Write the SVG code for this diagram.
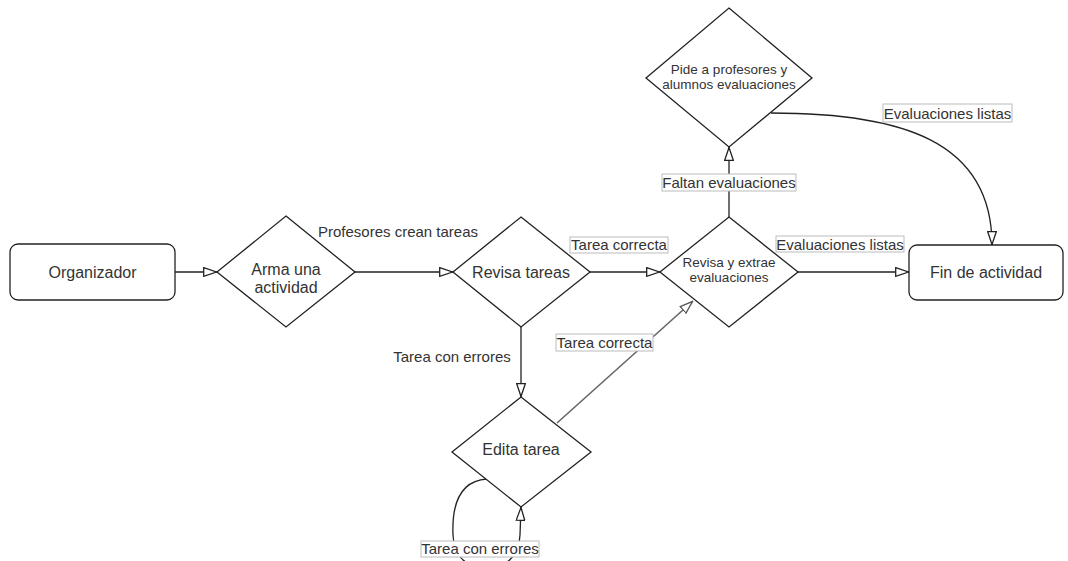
<svg xmlns="http://www.w3.org/2000/svg" width="1068" height="561" viewBox="0 0 1068 561">
<defs>
<marker id="arr" viewBox="0 0 14 10" refX="14" refY="5" markerWidth="14" markerHeight="10" markerUnits="userSpaceOnUse" orient="auto">
<path d="M0.7,0.7 L13.5,5 L0.7,9.3 Z" fill="#fff" stroke="#222" stroke-width="1.3"/>
</marker>
<marker id="arrg" viewBox="0 0 14 10" refX="14" refY="5" markerWidth="14" markerHeight="10" markerUnits="userSpaceOnUse" orient="auto">
<path d="M0.7,0.7 L13.5,5 L0.7,9.3 Z" fill="#fff" stroke="#555" stroke-width="1.3"/>
</marker>
</defs>
<style>
.shape{fill:#fff;stroke:#222;stroke-width:1.3}
.edge{fill:none;stroke:#222;stroke-width:1.3}
.t{font-family:"Liberation Sans",Arial,sans-serif;fill:#333;text-anchor:middle}
.n{font-size:16px}
.s{font-size:13.5px}
.l{font-size:15px}
.lb{fill:#fff;stroke:#bbb;stroke-width:1}
</style>
<rect width="1068" height="561" fill="#fff"/>
<g id="connectors">
<path class="edge" d="M175 272 L217 272" marker-end="url(#arr)"/>
<path class="edge" d="M355 272 L453 272" marker-end="url(#arr)"/>
<text class="t l" x="398" y="237">Profesores crean tareas</text>
<path class="edge" d="M590 272 L660 272" marker-end="url(#arr)"/>
<rect class="lb" x="570" y="237" width="98" height="16"/>
<text class="t l" x="619" y="250">Tarea correcta</text>
<path class="edge" d="M798 272 L909 272" marker-end="url(#arr)"/>
<rect class="lb" x="776" y="236" width="128" height="16"/>
<text class="t l" x="840" y="249.5">Evaluaciones listas</text>
<path class="edge" d="M729 217 L729 147" marker-end="url(#arr)"/>
<rect class="lb" x="662" y="174" width="134" height="17"/>
<text class="t l" x="729" y="188">Faltan evaluaciones</text>
<path class="edge" d="M771 113 C 900 113, 992 140, 992 245" marker-end="url(#arr)"/>
<rect class="lb" x="883" y="104" width="129" height="18"/>
<text class="t l" x="947.5" y="118.5">Evaluaciones listas</text>
<path class="edge" d="M521 327 L521 397" marker-end="url(#arr)"/>
<text class="t l" x="452" y="362">Tarea con errores</text>
<path d="M557 423 L693 301" fill="none" stroke="#666" stroke-width="1.6" marker-end="url(#arrg)"/>
<rect class="lb" x="556" y="334" width="97" height="17"/>
<text class="t l" x="604.5" y="347.5">Tarea correcta</text>
<path class="edge" d="M487 479 C 457 481, 452 510, 453 535 C 454 558, 466 567, 486 567 C 506 567, 519 558, 520 535 L 521 507" marker-end="url(#arr)"/>
<rect class="lb" x="421" y="541" width="118" height="16"/>
<text class="t l" x="480" y="554">Tarea con errores</text>
</g>
<g id="organizador">
<rect class="shape" x="10" y="244" width="165" height="56" rx="8" ry="8"/>
<text class="t n" x="92.5" y="278">Organizador</text>
</g>
<g id="arma">
<path class="shape" d="M286 216 L355 272 L286 327 L217 272 Z"/>
<text class="t n" x="286" y="275">Arma una</text>
<text class="t n" x="286" y="293">actividad</text>
</g>
<g id="revisa-tareas">
<path class="shape" d="M521 217 L590 272 L521 327 L453 272 Z"/>
<text class="t n" x="521" y="278">Revisa tareas</text>
</g>
<g id="revisa-extrae">
<path class="shape" d="M729 217 L798 272 L729 327 L660 272 Z"/>
<text class="t s" x="729" y="267">Revisa y extrae</text>
<text class="t s" x="729" y="282">evaluaciones</text>
</g>
<g id="pide">
<path class="shape" d="M729 8 L812 78 L729 147 L646 78 Z"/>
<text class="t s" x="729" y="74">Pide a profesores y</text>
<text class="t s" x="729" y="89">alumnos evaluaciones</text>
</g>
<g id="fin">
<rect class="shape" x="909" y="245" width="154" height="55" rx="8" ry="8"/>
<text class="t n" x="986" y="278">Fin de actividad</text>
</g>
<g id="edita">
<path class="shape" d="M521 397 L591 452 L521 507 L452 452 Z"/>
<text class="t n" x="521" y="455">Edita tarea</text>
</g>
</svg>
